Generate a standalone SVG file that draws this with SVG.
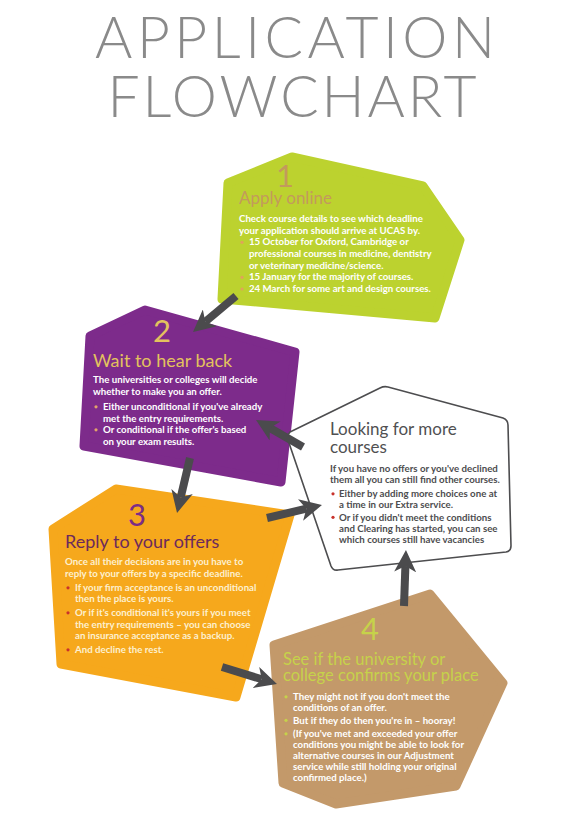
<svg xmlns="http://www.w3.org/2000/svg" width="586" height="828" viewBox="0 0 586 828">
<style>
.title{font-family:Lato,"Liberation Sans",sans-serif;font-size:57px;font-weight:300;fill:#8a8a8a;text-anchor:middle}
.num{font-family:Lato,"Liberation Sans",sans-serif;font-size:31px;font-weight:normal;text-anchor:middle}
.head{font-family:Lato,"Liberation Sans",sans-serif;font-size:17px}
.body{font-family:Lato,"Liberation Sans",sans-serif;font-size:9.7px;font-weight:bold}
.shape{stroke-linejoin:round;stroke-width:9}
.arrow{stroke:#4b4b4d;stroke-width:8;fill:none;marker-end:url(#ah)}
</style>
<defs>
<marker id="ah" viewBox="0 0 22 22" markerWidth="22" markerHeight="22" markerUnits="userSpaceOnUse" refX="6" refY="11" orient="auto">
<path d="M0,0 L22,11 L0,22 L6,11 Z" fill="#4b4b4d"/>
</marker>
</defs>
<rect width="586" height="828" fill="#ffffff"/>
<g id="title">
<text class="title" x="295" y="58" textLength="400" lengthAdjust="spacing">APPLICATION</text>
<text class="title" x="292" y="117" textLength="369" lengthAdjust="spacing">FLOWCHART</text>
</g>
<g id="node1">
<polygon class="shape" points="228,183 292,157 423,186 460,240 435,318 222,299" fill="#bcd22f" stroke="#bcd22f"/>
<text class="num" x="285" y="187" fill="#c39a5c">1</text>
<text class="head" x="239" y="204" fill="#c39a5c">Apply online</text>
<g class="body" fill="#ffffff">
<text x="239" y="222">Check course details to see which deadline</text>
<text x="239" y="233.7">your application should arrive at UCAS by.</text>
<text x="249" y="245.3">15 October for Oxford, Cambridge or</text>
<text x="249" y="257">professional courses in medicine, dentistry</text>
<text x="249" y="268.7">or veterinary medicine/science.</text>
<text x="249" y="280.3">15 January for the majority of courses.</text>
<text x="249" y="292">24 March for some art and design courses.</text>
</g>
<g fill="#e0a35a"><circle cx="242" cy="242.3" r="1.6"/><circle cx="242" cy="277.3" r="1.6"/><circle cx="242" cy="289" r="1.6"/></g>
</g>
<g id="node2">
<polygon class="shape" points="90,336 145,310 295,352 281,482 84,446" fill="#7d2b8b" stroke="#7d2b8b"/>
<text class="num" x="162" y="342" fill="#e3c25e">2</text>
<text class="head" x="93" y="367" fill="#e3c25e" style="font-size:18px">Wait to hear back</text>
<g class="body" fill="#ffffff">
<text x="93" y="383">The universities or colleges will decide</text>
<text x="93" y="394.5">whether to make you an offer.</text>
<text x="103" y="410">Either unconditional if you've already</text>
<text x="103" y="421.5">met the entry requirements.</text>
<text x="103" y="433">Or conditional if the offer's based</text>
<text x="103" y="444.5">on your exam results.</text>
</g>
<g fill="#e3a36a"><circle cx="96" cy="406.8" r="1.6"/><circle cx="96" cy="429.8" r="1.6"/></g>
</g>
<g id="node3">
<polygon class="shape" points="53,529 116,489 290,515 236,697 61,664" fill="#f6a81c" stroke="#f6a81c"/>
<text class="num" x="137" y="526" fill="#7b2c86">3</text>
<text class="head" x="65" y="548" fill="#6c2a5c" style="font-size:18px">Reply to your offers</text>
<g class="body" fill="#fdf0d0">
<text x="65" y="565">Once all their decisions are in you have to</text>
<text x="65" y="577">reply to your offers by a specific deadline.</text>
<text x="75" y="591">If your firm acceptance is an unconditional</text>
<text x="75" y="602">then the place is yours.</text>
<text x="75" y="616">Or if it's conditional it's yours if you meet</text>
<text x="75" y="627.5">the entry requirements – you can choose</text>
<text x="75" y="638.5">an insurance acceptance as a backup.</text>
<text x="75" y="653">And decline the rest.</text>
</g>
<g fill="#c8322c"><circle cx="68" cy="587.8" r="1.6"/><circle cx="68" cy="612.8" r="1.6"/><circle cx="68" cy="649.8" r="1.6"/></g>
</g>
<g id="node5">
<path d="M290,432 L380,388 Q384,386 388,387 L503,418 Q508,420 508,425 L511,546 Q511,551 506,552 L338,570 Q333,571 331,566 L288,440 Q287,435 290,432 Z" fill="#ffffff" stroke="#4d4d4f" stroke-width="1.6"/>
<text class="head" x="330" y="435" fill="#505052">Looking for more</text>
<text class="head" x="330" y="453" fill="#505052">courses</text>
<g class="body" fill="#4d4d4f">
<text x="330" y="472">If you have no offers or you've declined</text>
<text x="330" y="482.5">them all you can still find other courses.</text>
<text x="339" y="497">Either by adding more choices one at</text>
<text x="339" y="508">a time in our Extra service.</text>
<text x="339" y="520.5">Or if you didn't meet the conditions</text>
<text x="339" y="532">and Clearing has started, you can see</text>
<text x="339" y="543">which courses still have vacancies</text>
</g>
<g fill="#c8322c"><circle cx="333" cy="493.8" r="1.6"/><circle cx="333" cy="517.3" r="1.6"/></g>
</g>
<g id="node4">
<polygon class="shape" points="274,645 430,594 503,683 456,786 336,804 283,783" fill="#c3996a" stroke="#c3996a"/>
<text class="num" x="370" y="640" fill="#c6d24a">4</text>
<text class="head" x="283" y="665" fill="#c6d24a" style="font-size:16.5px">See if the university or</text>
<text class="head" x="283" y="680.5" fill="#c6d24a" style="font-size:16.5px">college confirms your place</text>
<g class="body" fill="#ffffff">
<text x="293" y="700">They might not if you don't meet the</text>
<text x="293" y="710.5">conditions of an offer.</text>
<text x="293" y="723.5">But if they do then you're in – hooray!</text>
<text x="293" y="737">(If you've met and exceeded your offer</text>
<text x="293" y="748">conditions you might be able to look for</text>
<text x="293" y="759">alternative courses in our Adjustment</text>
<text x="293" y="770">service while still holding your original</text>
<text x="293" y="781">confirmed place.)</text>
</g>
<g fill="#c6d24a"><circle cx="286" cy="696.8" r="1.6"/><circle cx="286" cy="720.3" r="1.6"/><circle cx="286" cy="733.8" r="1.6"/></g>
</g>
<g id="connectors">
<line class="arrow" x1="236" y1="296" x2="205.3" y2="321.7"/>
<line class="arrow" x1="190" y1="458" x2="180.7" y2="497.4"/>
<line class="arrow" x1="267" y1="518" x2="306.4" y2="508.7"/>
<line class="arrow" x1="222" y1="667" x2="261.7" y2="679.3"/>
<line class="arrow" x1="404" y1="606" x2="405.4" y2="566"/>
<line class="arrow" x1="303" y1="447" x2="269.9" y2="428"/>
</g>
</svg>
